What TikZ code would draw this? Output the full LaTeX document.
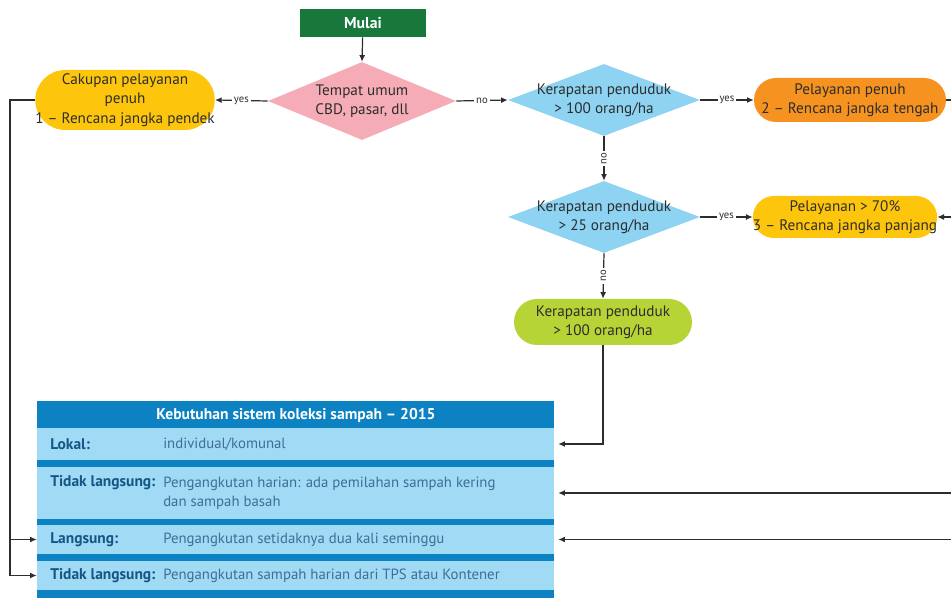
\documentclass[tikz,border=0pt]{standalone}
\usepackage{fontspec}
\setmainfont{PT Sans}
\usetikzlibrary{shapes.geometric,arrows.meta}

\definecolor{startgreen}{RGB}{24,120,60}
\definecolor{pinkdia}{RGB}{245,172,182}
\definecolor{bluedia}{RGB}{142,212,242}
\definecolor{orangebox}{RGB}{245,146,32}
\definecolor{yellowbox}{RGB}{253,198,12}
\definecolor{limebox}{RGB}{182,212,54}
\definecolor{tabdark}{RGB}{12,130,195}
\definecolor{tablight}{RGB}{160,218,245}
\definecolor{tabkeyc}{RGB}{22,86,134}
\definecolor{tabvalc}{RGB}{62,110,150}
\definecolor{linegray}{RGB}{45,45,45}

\begin{document}
\begin{tikzpicture}[x=0.75pt,y=0.75pt,yscale=-1,xscale=1,
  every node/.style={font=\fontsize{11.4}{14.5}\selectfont},
  decision/.style={diamond, fill=#1, inner sep=0pt, minimum width=144pt, minimum height=54pt},
  stadium/.style={rectangle, fill=#1, inner sep=0pt, align=center, text=linegray},
  startbox/.style={rectangle, fill=startgreen, text=white, inner sep=0pt, minimum width=94.5pt, minimum height=21pt, font=\fontsize{11.8}{12}\selectfont\bfseries},
  flow/.style={draw=linegray, line width=0.9pt, -{Latex[length=5pt,width=4.5pt]}},
  tag/.style={fill=white, inner sep=1.5pt, text=linegray, font=\fontsize{8}{9}\selectfont},
  tabrow/.style={rectangle, fill=tablight, inner sep=0pt, minimum width=387.75pt},
  tabkey/.style={anchor=west, inner sep=0pt, text=tabkeyc, font=\fontsize{11.6}{14.5}\selectfont\bfseries},
  tabval/.style={anchor=west, inner sep=0pt, text=tabvalc, align=left, font=\fontsize{11.1}{14.5}\selectfont}]
\useasboundingbox (0,0) rectangle (951,598);

%Shape: Rectangle
\node[startbox] (mulai) at (363,23) {Mulai};
%Shape: Diamond
\node[decision=pinkdia, minimum width=141pt, minimum height=58.5pt,
  label={[align=center,text=linegray]center:{Tempat umum\\CBD, pasar, dll}}] (cbd) at (362,101) {};
%Shape: Diamond
\node[decision=bluedia,
  label={[align=center,text=linegray]center:{Kerapatan penduduk\\> 100 orang/ha}}] (dense) at (604,100) {};
%Shape: Diamond
\node[decision=bluedia,
  label={[align=center,text=linegray]center:{Kerapatan penduduk\\> 25 orang/ha}}] (medium) at (604,217) {};

%Shape: Rounded Rectangle
\node[stadium=yellowbox, minimum width=133.5pt, minimum height=45pt, rounded corners=22.5pt] (cakupan) at (125,100) {Cakupan pelayanan\\penuh\\1 -- Rencana jangka pendek};
%Shape: Rounded Rectangle
\node[stadium=orangebox, minimum width=144pt, minimum height=33pt, rounded corners=16.5pt] (penuh) at (850,100) {Pelayanan penuh\\2 -- Rencana jangka tengah};
%Shape: Rounded Rectangle
\node[stadium=yellowbox, minimum width=135pt, minimum height=31.5pt, rounded corners=15.75pt] (tujuh) at (845,217) {Pelayanan > 70\%\\3 -- Rencana jangka panjang};
%Shape: Rounded Rectangle
\node[stadium=limebox, minimum width=133.5pt, minimum height=34.5pt, rounded corners=17.25pt] (sparse) at (603,322) {Kerapatan penduduk\\> 100 orang/ha};

%Shape: Table
\fill[tabdark] (37,401) rectangle (554,600);
\node[tabrow, minimum height=24pt] (r1) at (295.5,444) {};
\node[tabrow, minimum height=39pt] (r2) at (295.5,493) {};
\node[tabrow, minimum height=21.75pt] (r3) at (295.5,539.5) {};
\node[tabrow, minimum height=21.75pt] (r4) at (295.5,575.5) {};

% Text Node
\node[text=white, font=\fontsize{11.7}{12}\selectfont\bfseries] (hdr) at (296,415) {Kebutuhan sistem koleksi sampah -- 2015};
% Text Node
\node[tabkey] (k1) at (50,444) {Lokal:};
\node[tabval] (v1) at (163,444) {individual/komunal};
% Text Node
\node[tabkey] (k2) at (50,483) {Tidak langsung:};
\node[tabval] (v2) at (163,493) {Pengangkutan harian: ada pemilahan sampah kering\\dan sampah basah};
% Text Node
\node[tabkey] (k3) at (50,539.5) {Langsung:};
\node[tabval] (v3) at (163,539.5) {Pengangkutan setidaknya dua kali seminggu};
% Text Node
\node[tabkey] (k4) at (50,576) {Tidak langsung:};
\node[tabval] (v4) at (163,576) {Pengangkutan sampah harian dari TPS atau Kontener};

%Straight Lines
\coordinate (lbend) at (10,100);
\coordinate (rimA) at (951,100);
\coordinate (rimB) at (951,217);
\coordinate (rimC) at (951,493);
\coordinate (rimD) at (951,539.5);

\draw[flow] (mulai) -- (cbd.north);
\draw[flow] (cbd.west) -- node[tag] {yes} (cakupan.east);
\draw[flow] (cbd.east) -- node[tag] {no} (dense.west);
\draw[flow] (dense.east) -- node[tag] {yes} (penuh.west);
\draw[flow] (dense.south) -- node[tag, rotate=90] {no} (medium.north);
\draw[flow] (medium.east) -- node[tag] {yes} (tujuh.west);
\draw[flow] (medium.south) -- node[tag, rotate=90] {no} (sparse.north);
\draw[flow, shorten >=3pt] (sparse.south) |- (r1.east);
\draw[flow, -] (penuh.east) -- (rimA);
\draw[flow] (rimB) -- (tujuh.east);
\draw[flow, shorten >=3pt] (rimC) -- (r2.east);
\draw[flow, shorten >=3pt] (rimD) -- (r3.east);
\draw[flow] (cakupan.west) -- (lbend) |- (r4.west);
\draw[flow] (lbend) |- (r3.west);

\end{tikzpicture}
\end{document}
